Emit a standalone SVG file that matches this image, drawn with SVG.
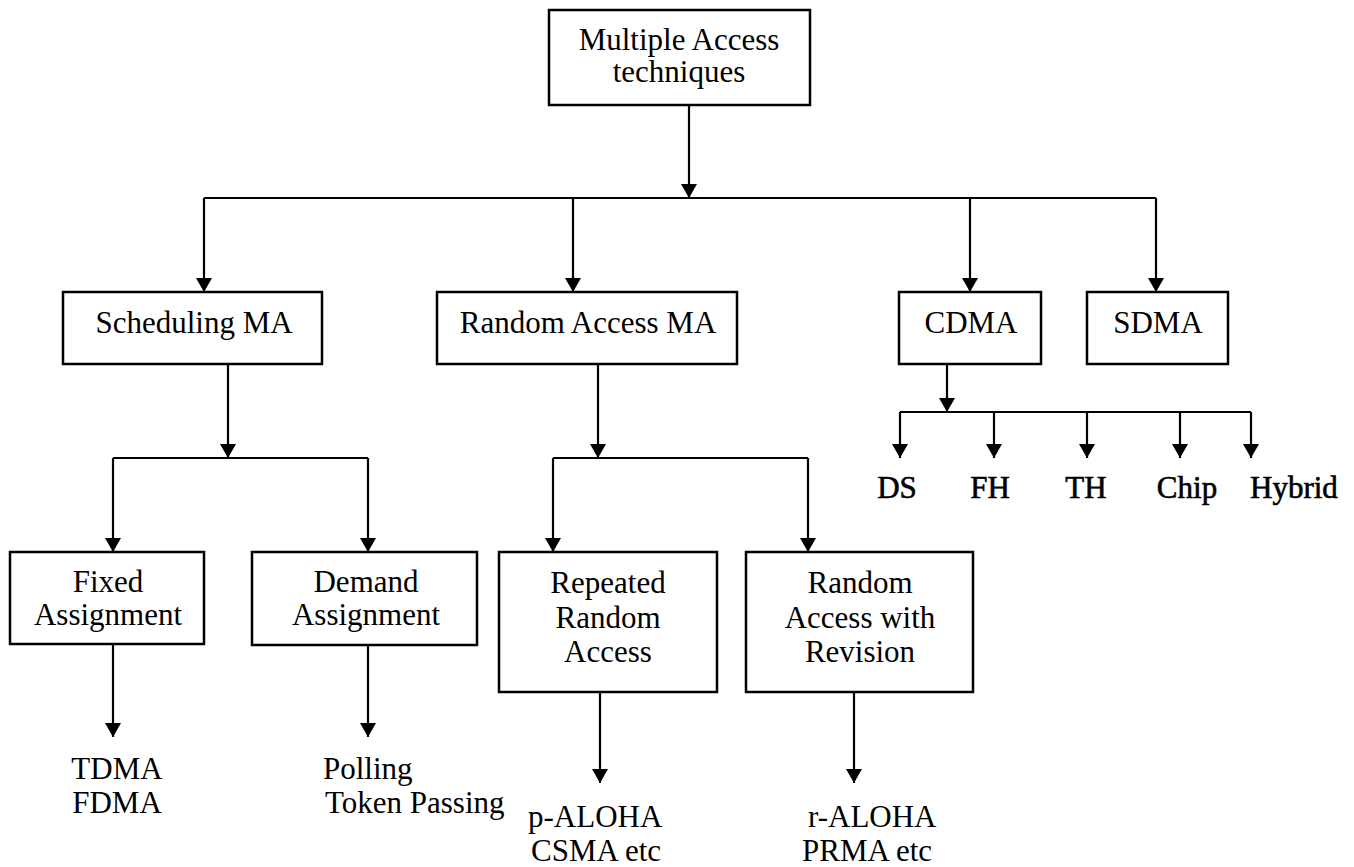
<svg xmlns="http://www.w3.org/2000/svg" width="1354" height="867" viewBox="0 0 1354 867">
<defs>
<style>
.box{fill:#fff;stroke:#000;stroke-width:2.5}
.ln{fill:none;stroke:#000;stroke-width:2.2}
.t{font-family:"Liberation Serif","Times New Roman",serif;font-size:31px;fill:#000}
.c{text-anchor:middle}
.h{stroke:#000;stroke-width:0.6}
</style>
<marker id="ah" viewBox="0 0 14 16" refX="14" refY="8" markerWidth="14" markerHeight="16" markerUnits="userSpaceOnUse" orient="auto">
<path d="M0,0 L14,8 L0,16 z" fill="#000"/>
</marker>
</defs>
<rect width="1354" height="867" fill="#fff"/>
<g id="connectors">
<path class="ln" d="M689,105 V198" marker-end="url(#ah)"/>
<path class="ln" d="M204,198 H1156"/>
<path class="ln" d="M204,198 V292" marker-end="url(#ah)"/>
<path class="ln" d="M573,198 V292" marker-end="url(#ah)"/>
<path class="ln" d="M970,198 V292" marker-end="url(#ah)"/>
<path class="ln" d="M1156,198 V292" marker-end="url(#ah)"/>
<path class="ln" d="M228,364 V458" marker-end="url(#ah)"/>
<path class="ln" d="M113,458 H368"/>
<path class="ln" d="M113,458 V552" marker-end="url(#ah)"/>
<path class="ln" d="M368,458 V552" marker-end="url(#ah)"/>
<path class="ln" d="M113,644 V737" marker-end="url(#ah)"/>
<path class="ln" d="M368,645 V737" marker-end="url(#ah)"/>
<path class="ln" d="M598,364 V458" marker-end="url(#ah)"/>
<path class="ln" d="M553,458 H808"/>
<path class="ln" d="M553,458 V552" marker-end="url(#ah)"/>
<path class="ln" d="M808,458 V552" marker-end="url(#ah)"/>
<path class="ln" d="M600,692 V783" marker-end="url(#ah)"/>
<path class="ln" d="M854,692 V783" marker-end="url(#ah)"/>
<path class="ln" d="M947,364 V412" marker-end="url(#ah)"/>
<path class="ln" d="M900,412 H1251"/>
<path class="ln" d="M900,412 V458" marker-end="url(#ah)"/>
<path class="ln" d="M994,412 V458" marker-end="url(#ah)"/>
<path class="ln" d="M1087,412 V458" marker-end="url(#ah)"/>
<path class="ln" d="M1180,412 V458" marker-end="url(#ah)"/>
<path class="ln" d="M1251,412 V458" marker-end="url(#ah)"/>
</g>
<g id="root">
<rect class="box" x="549" y="10" width="261" height="95"/>
<text class="t c" x="679" y="50">Multiple Access</text>
<text class="t c" x="679" y="82">techniques</text>
</g>
<g id="scheduling">
<rect class="box" x="63" y="292" width="259" height="72"/>
<text class="t c" x="194" y="333">Scheduling MA</text>
</g>
<g id="random">
<rect class="box" x="437" y="292" width="300" height="72"/>
<text class="t c" x="588" y="333">Random Access MA</text>
</g>
<g id="cdma">
<rect class="box" x="899" y="292" width="142" height="72"/>
<text class="t c" x="971" y="333">CDMA</text>
</g>
<g id="sdma">
<rect class="box" x="1087" y="292" width="141" height="72"/>
<text class="t c" x="1158" y="333">SDMA</text>
</g>
<g id="fixed">
<rect class="box" x="10" y="552" width="194" height="92"/>
<text class="t c" x="108" y="592">Fixed</text>
<text class="t c" x="108" y="625">Assignment</text>
</g>
<g id="demand">
<rect class="box" x="252" y="552" width="225" height="93"/>
<text class="t c" x="366" y="592">Demand</text>
<text class="t c" x="366" y="625">Assignment</text>
</g>
<g id="repeated">
<rect class="box" x="499" y="552" width="218" height="140"/>
<text class="t c" x="608" y="593">Repeated</text>
<text class="t c" x="608" y="628">Random</text>
<text class="t c" x="608" y="662">Access</text>
</g>
<g id="revision">
<rect class="box" x="746" y="552" width="227" height="140"/>
<text class="t c" x="860" y="593">Random</text>
<text class="t c" x="860" y="628">Access with</text>
<text class="t c" x="860" y="662">Revision</text>
</g>
<g id="fixed-examples">
<text class="t c" x="117" y="779">TDMA</text>
<text class="t c" x="117" y="813">FDMA</text>
</g>
<g id="demand-examples">
<text class="t" x="323" y="779">Polling</text>
<text class="t" x="325" y="813">Token Passing</text>
</g>
<g id="repeated-examples">
<text class="t" x="528" y="827">p-ALOHA</text>
<text class="t" x="531" y="861">CSMA etc</text>
</g>
<g id="revision-examples">
<text class="t" x="808" y="827">r-ALOHA</text>
<text class="t" x="802" y="861">PRMA etc</text>
</g>
<g id="cdma-types">
<text class="t c h" x="897" y="498">DS</text>
<text class="t c h" x="990" y="498">FH</text>
<text class="t c h" x="1086" y="498">TH</text>
<text class="t c h" x="1187" y="498">Chip</text>
<text class="t h" x="1250" y="498">Hybrid</text>
</g>
</svg>
